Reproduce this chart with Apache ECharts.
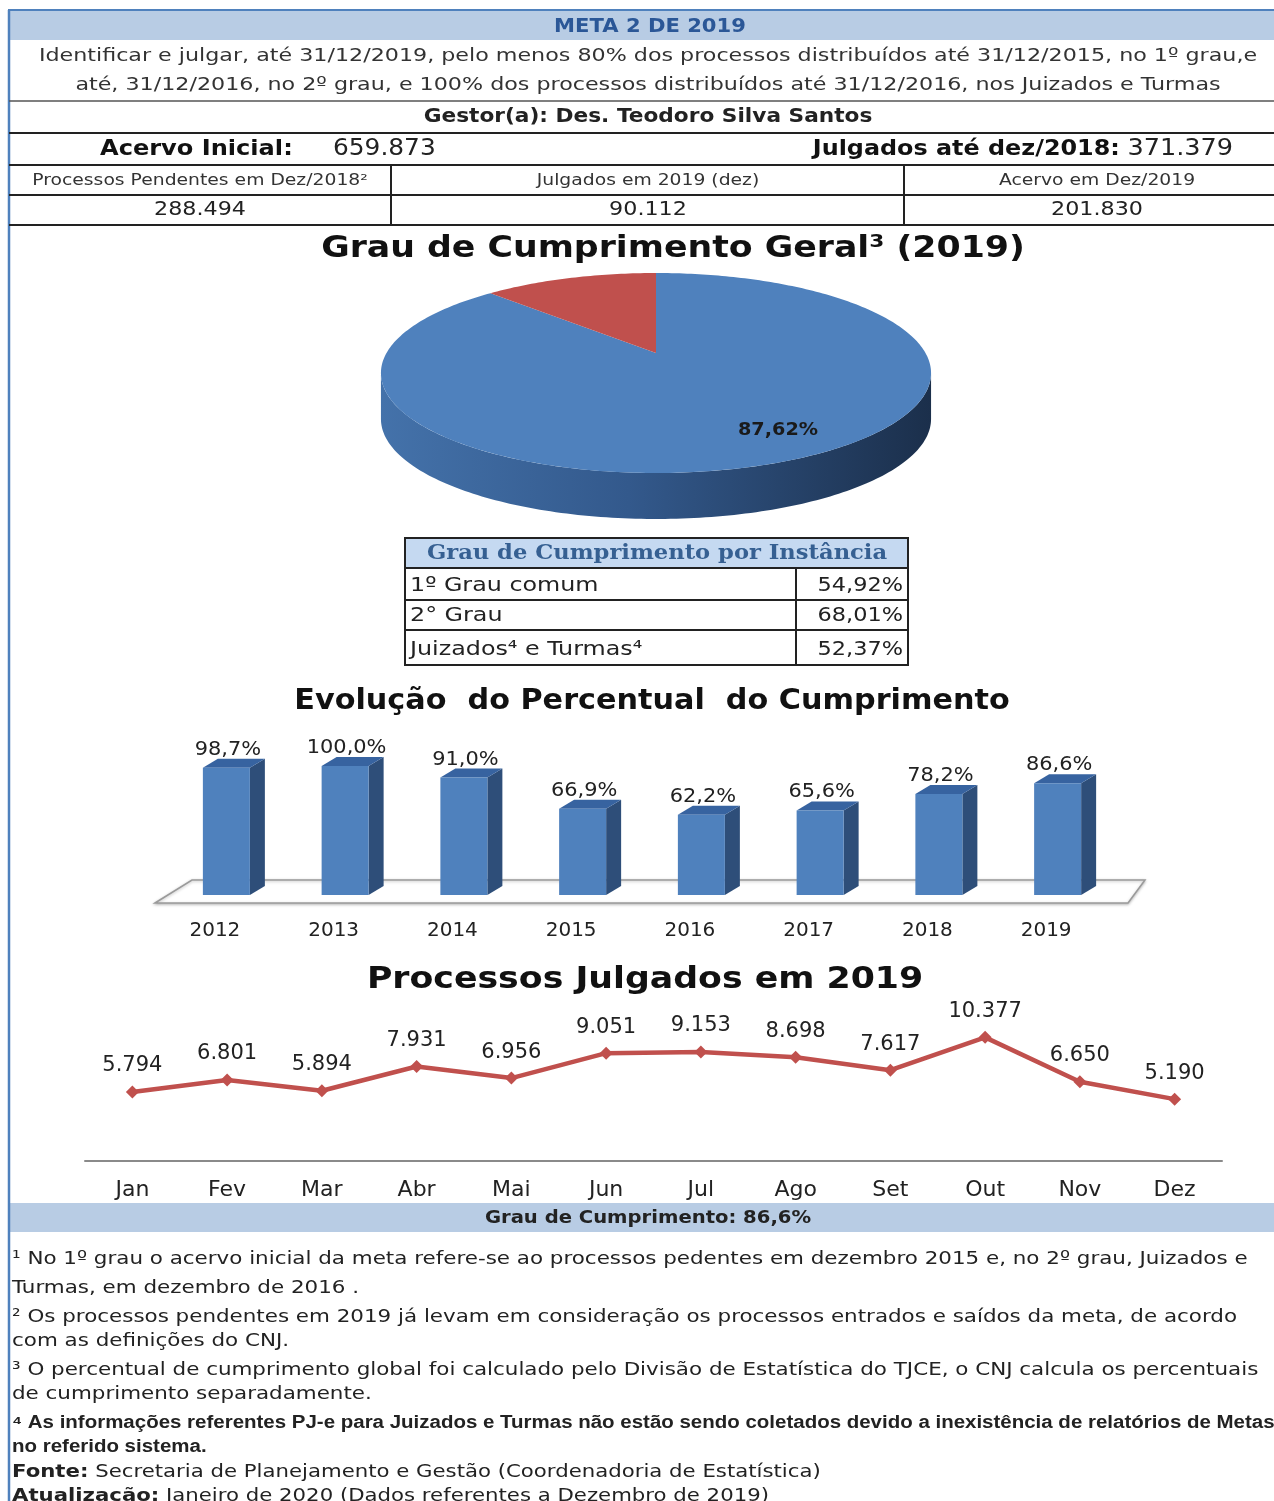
<!DOCTYPE html>
<html><head><meta charset="utf-8">
<script src="https://cdn.jsdelivr.net/npm/echarts@6/dist/echarts.min.js"></script>
<style>html,body{margin:0;padding:0;background:#fff}#c{width:1274px;height:1501px}</style>
</head><body><div id="c"></div><script>
// ---------- DATA ----------
const summaryLabels = ['Processos Pendentes em Dez/2018²', 'Julgados em 2019 (dez)', 'Acervo em Dez/2019'];
const summaryValues = ['288.494', '90.112', '201.830'];
const acervoInicial = '659.873';
const julgadosAte2018 = '371.379';
const pieNames = ['Cumprido', 'Não cumprido'];
const pieValues = [87.62, 12.38];
const instNames = ['1º Grau comum', '2° Grau', 'Juizados⁴ e Turmas⁴'];
const instValues = ['54,92%', '68,01%', '52,37%'];
const years = ['2012', '2013', '2014', '2015', '2016', '2017', '2018', '2019'];
const evolucao = [98.7, 100.0, 91.0, 66.9, 62.2, 65.6, 78.2, 86.6];
const months = ['Jan', 'Fev', 'Mar', 'Abr', 'Mai', 'Jun', 'Jul', 'Ago', 'Set', 'Out', 'Nov', 'Dez'];
const julgados = [5794, 6801, 5894, 7931, 6956, 9051, 9153, 8698, 7617, 10377, 6650, 5190];
const grauCumprimento = '86,6%';

// ---------- HELPERS ----------
const FF = 'DejaVu Sans';
function txt(x, y, text, size, o) {
  o = o || {};
  const st = {
    text: text, fontSize: size, fontFamily: o.ff || FF, fontWeight: o.bold ? 'bold' : 'normal',
    fill: o.color || '#222', textAlign: o.align || 'center', textVerticalAlign: 'middle',
    align: o.align || 'center', verticalAlign: 'middle'
  };
  if (o.rich) st.rich = o.rich;
  return { type: 'text', x: x, y: y, z: 10, silent: true, scaleX: o.sx || 1, style: st };
}
function ln(x1, y1, x2, y2, color, w) {
  return { type: 'line', z: 8, silent: true, shape: { x1: x1, y1: y1, x2: x2, y2: y2 }, style: { stroke: color, lineWidth: w } };
}
function rc(x, y, w, h, fill, stroke, lw) {
  return { type: 'rect', z: 3, silent: true, shape: { x: x, y: y, width: w, height: h },
    style: { fill: fill || 'none', stroke: stroke || 'none', lineWidth: lw || 0 } };
}
function fmtThousands(v) { return String(v).replace(/\B(?=(\d{3})+(?!\d))/g, '.'); }
function fmtPct(v, d) { return v.toFixed(d).replace('.', ',') + '%'; }

const BLUE_LINE = '#4F81BD';
const BAND = '#B8CCE4';
const DARK = '#222';

// ---------- GRAPHIC (frame, tables, titles, notes) ----------
const g = [];
g.push(rc(9, 11, 1265, 29, BAND));
g.push(ln(8, 10, 1274, 10, BLUE_LINE, 2));
g.push(ln(9, 10, 9, 1501, BLUE_LINE, 2.5));
g.push(txt(650, 27, 'META 2 DE 2019', 19, { bold: true, color: '#2B5797', sx: 1.11 }));
g.push(txt(648, 56, 'Identificar e julgar, até 31/12/2019, pelo menos 80% dos processos distribuídos até 31/12/2015, no 1º grau,e', 18.5, { color: '#333', sx: 1.2 }));
g.push(txt(648, 85, 'até, 31/12/2016, no 2º grau, e 100% dos processos distribuídos até 31/12/2016, nos Juizados e Turmas', 18.5, { color: '#333', sx: 1.2 }));
g.push(ln(9, 101, 1274, 101, '#555', 1.5));
g.push(txt(648, 117, 'Gestor(a): Des. Teodoro Silva Santos', 19, { bold: true, color: DARK, sx: 1.14 }));
g.push(ln(9, 133, 1274, 133, DARK, 2));
g.push(txt(100, 149, 'Acervo Inicial:', 21.5, { bold: true, align: 'left', color: '#111', sx: 1.12 }));
g.push(txt(333, 149, acervoInicial, 23, { align: 'left', color: '#222', sx: 1.08 }));
g.push(txt(1233, 149, '{b|Julgados até dez/2018:} {n|' + julgadosAte2018 + '}', 21.5, {
  align: 'right', sx: 1.11,
  rich: {
    b: { fontFamily: FF, fontSize: 21.5, fontWeight: 'bold', fill: '#111', color: '#111' },
    n: { fontFamily: FF, fontSize: 23, fontWeight: 'normal', fill: '#222', color: '#222' }
  }
}));
g.push(ln(9, 165, 1274, 165, DARK, 2));
const colX = [200, 648, 1097];
summaryLabels.forEach(function (s, i) { g.push(txt(colX[i], 181, s, 15.5, { color: '#333', sx: 1.21 })); });
g.push(ln(9, 195, 1274, 195, DARK, 2));
summaryValues.forEach(function (s, i) { g.push(txt(colX[i], 210, s, 19, { color: '#222', sx: 1.17 })); });
g.push(ln(9, 225, 1274, 225, DARK, 2));
g.push(ln(391, 165, 391, 225, DARK, 2));
g.push(ln(904, 165, 904, 225, DARK, 2));

// pie title
g.push(txt(673, 249, 'Grau de Cumprimento Geral³ (2019)', 31, { bold: true, color: '#111', sx: 1.12 }));

// instance table
g.push(rc(406, 539, 502, 29, '#C5D9F1'));
g.push(rc(405, 538, 503, 127, 'none', DARK, 2));
g.push(txt(657, 554, 'Grau de Cumprimento por Instância', 19.5, { bold: true, ff: 'DejaVu Serif', color: '#366092', sx: 1.16 }));
[568, 600, 630].forEach(function (y) { g.push(ln(405, y, 908, y, DARK, 2)); });
g.push(ln(796, 568, 796, 665, DARK, 2));
const rowY = [586, 616, 650];
instNames.forEach(function (s, i) {
  g.push(txt(410, rowY[i], s, 20, { align: 'left', color: '#222', sx: 1.19 }));
  g.push(txt(903, rowY[i], instValues[i], 20, { align: 'right', color: '#222', sx: 1.12 }));
});

// evolution title
g.push(txt(652, 702, 'Evolução  do Percentual  do Cumprimento', 28, { bold: true, color: '#111', sx: 1.08 }));
// floor of 3D bar chart
g.push({ type: 'polygon', z: 1, silent: true, shape: { points: [[155, 903], [192, 880], [1145, 880], [1128, 903]] },
  style: { fill: '#fff', stroke: '#9a9a9a', lineWidth: 1.5, shadowBlur: 3, shadowColor: 'rgba(0,0,0,0.25)', shadowOffsetY: 1 } });

// line title
g.push(txt(645, 980, 'Processos Julgados em 2019', 31, { bold: true, color: '#111', sx: 1.12 }));

// footer band
g.push(rc(10, 1203, 1264, 29, BAND));
g.push(txt(648, 1218, 'Grau de Cumprimento: ' + grauCumprimento, 17.5, { bold: true, color: '#222', sx: 1.12 }));

// footnotes
const fnRich = {
  b: { fontFamily: FF, fontSize: 18, fontWeight: 'bold', fill: '#222', color: '#222' },
  n: { fontFamily: FF, fontSize: 18, fontWeight: 'normal', fill: '#222', color: '#222' }
};
const notes = [
  [1259, '¹ No 1º grau o acervo inicial da meta refere-se ao processos pedentes em dezembro 2015 e, no 2º grau, Juizados e', false],
  [1288, 'Turmas, em dezembro de 2016 .', false],
  [1317, '² Os processos pendentes em 2019 já levam em consideração os processos entrados e saídos da meta, de acordo', false],
  [1341, 'com as definições do CNJ.', false],
  [1370, '³ O percentual de cumprimento global foi calculado pelo Divisão de Estatística do TJCE, o CNJ calcula os percentuais', false],
  [1394, 'de cumprimento separadamente.', false],
  [1423, '⁴ As informações referentes PJ-e para Juizados e Turmas não estão sendo coletados devido a inexistência de relatórios de Metas', true],
  [1447, 'no referido sistema.', true]
];
notes.forEach(function (n) {
  g.push(txt(12, n[0], n[1], n[2] ? 17.5 : 18, { align: 'left', bold: n[2], color: '#222',
    ff: n[2] ? 'Liberation Sans' : FF, sx: n[2] ? 1.17 : 1.19 }));
});
g.push(txt(12, 1472, '{b|Fonte:}{n| Secretaria de Planejamento e Gestão (Coordenadoria de Estatística)}', 18, { align: 'left', rich: fnRich, sx: 1.18 }));
g.push(txt(12, 1496, '{b|Atualização:}{n| Janeiro de 2020 (Dados referentes a Dezembro de 2019)}', 18, { align: 'left', rich: fnRich, sx: 1.18 }));

// ---------- PIE (3D perspective, custom series) ----------
const PIE = { cx: 656, cy: 353, a: 96, b: 269.5, p: 0.2, depth: 46 };
const pieColors = ['#4F81BD', '#C0504D'];
function proj(phiDeg, r) {
  const t = phiDeg * Math.PI / 180;
  const X = r * Math.sin(t), Z = r * Math.cos(t);
  const d = 1 + PIE.p * Z;
  return [PIE.cx + PIE.b * X / d, PIE.cy - PIE.a * Z / d];
}
function arcPts(s, e) {
  const pts = [];
  const n = Math.max(2, Math.ceil(Math.abs(e - s)));
  for (let i = 0; i <= n; i++) pts.push(proj(s + (e - s) * i / n, 1));
  return pts;
}
function pieRender(params, api) {
  const idx = params.dataIndex;
  const total = pieValues.reduce(function (s, v) { return s + v; }, 0);
  let start = 0;
  for (let i = 0; i < idx; i++) start += pieValues[i];
  const val = api.value(0);
  const s = start / total * 360, e = (start + val) / total * 360;
  const children = [];
  const vs = Math.max(s, 101.5), ve = Math.min(e, 258.5);
  if (ve > vs) {
    const top = arcPts(vs, ve);
    const bot = top.map(function (p) { return [p[0], p[1] + PIE.depth]; }).reverse();
    children.push({ type: 'polygon', z2: 1, shape: { points: top.concat(bot) },
      style: { fill: new echarts.graphic.LinearGradient(0, 0, 1, 0, [
        { offset: 0, color: '#4472AA' }, { offset: 0.45, color: '#33598C' }, { offset: 1, color: '#1B2F4B' }]) } });
  }
  children.push({ type: 'polygon', z2: 10, shape: { points: [[PIE.cx, PIE.cy]].concat(arcPts(s, e)) },
    style: { fill: pieColors[idx] } });
  if (idx === 0) {
    children.push({ type: 'text', z2: 20, x: PIE.cx + 122, y: PIE.cy + 78, scaleX: 1.13,
      style: { text: fmtPct(val, 2), fontFamily: FF, fontSize: 17, fontWeight: 'bold', fill: '#1a1a1a',
        align: 'center', verticalAlign: 'middle' } });
  }
  return { type: 'group', children: children };
}

// ---------- 3D BARS (custom series on cartesian grid) ----------
const BAR = { w: 47, dx: 15, dy: 9 };
function barRender(params, api) {
  const v = api.value(1);
  const c = api.coord([api.value(0), v]);
  const b = api.coord([api.value(0), 0]);
  const x0 = c[0] - BAR.w / 2, x1 = c[0] + BAR.w / 2, yt = c[1], yb = b[1];
  return { type: 'group', children: [
    { type: 'polygon', shape: { points: [[x1, yt], [x1 + BAR.dx, yt - BAR.dy], [x1 + BAR.dx, yb - BAR.dy], [x1, yb]] },
      style: { fill: '#2E4E79' } },
    { type: 'polygon', shape: { points: [[x0, yt], [x0 + BAR.dx, yt - BAR.dy], [x1 + BAR.dx, yt - BAR.dy], [x1, yt]] },
      style: { fill: '#3763A0' } },
    { type: 'rect', shape: { x: x0, y: yt, width: BAR.w, height: yb - yt }, style: { fill: '#4F81BD' } },
    { type: 'text', x: c[0] + 1.5, y: yt - 18, scaleX: 1.1,
      style: { text: fmtPct(v, 1), fontFamily: FF, fontSize: 19, fill: '#222', align: 'center', verticalAlign: 'middle' } }
  ] };
}

const chart = echarts.init(document.getElementById('c'), null, { renderer: 'canvas' });
chart.setOption({
  animation: false,
  backgroundColor: '#ffffff',
  graphic: { elements: g },
  grid: [
    { left: 167, top: 766, width: 950, height: 129 },
    { left: 85, top: 1018, width: 1137, height: 143 }
  ],
  xAxis: [
    { type: 'category', gridIndex: 0, data: years, axisLine: { show: false }, axisTick: { show: false },
      axisLabel: { margin: 26, fontSize: 20, fontFamily: FF, color: '#222', padding: [0, 23, 0, 0] } },
    { type: 'category', gridIndex: 1, data: months, axisLine: { lineStyle: { color: '#8a8a8a', width: 2 } },
      axisTick: { show: false }, axisLabel: { margin: 18, fontSize: 22, fontFamily: FF, color: '#222' } }
  ],
  yAxis: [
    { type: 'value', gridIndex: 0, min: 0, max: 100, show: false },
    { type: 'value', gridIndex: 1, min: 0, max: 12000, show: false }
  ],
  series: [
    { type: 'custom', name: 'Grau de Cumprimento Geral', coordinateSystem: 'none', renderItem: pieRender,
      data: pieValues.map(function (v, i) { return { name: pieNames[i], value: [v] }; }), z: 2 },
    { type: 'custom', name: 'Evolução', xAxisIndex: 0, yAxisIndex: 0, renderItem: barRender,
      encode: { x: 0, y: 1 }, data: evolucao.map(function (v, i) { return [i, v]; }), z: 3 },
    { type: 'line', name: 'Julgados', xAxisIndex: 1, yAxisIndex: 1, data: julgados,
      symbol: 'diamond', symbolSize: 13, itemStyle: { color: '#C0504D' },
      lineStyle: { color: '#C0504D', width: 4.5 },
      label: { show: true, position: 'top', distance: 9, fontSize: 21, fontFamily: FF, color: '#222',
        formatter: function (p) { return fmtThousands(p.value); } } }
  ]
});
</script></body></html>
